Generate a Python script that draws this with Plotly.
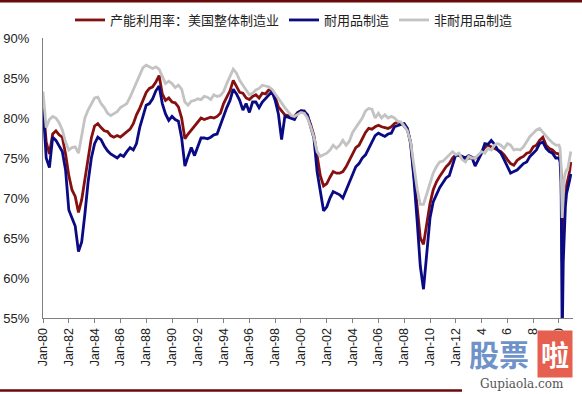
import pandas as pd
import plotly.graph_objects as go

# ---- data (quarterly 1980Q1-2019Q4, then monthly 2020) ----
quarter_dates = pd.date_range("1980-01-01", "2019-10-01", freq="QS")
month_dates_2020 = pd.date_range("2020-01-01", "2020-12-01", freq="MS")
dates = list(quarter_dates) + list(month_dates_2020)

total_mfg = [
    82.0, 77.0, 75.5, 78.0, 78.4, 77.9, 77.6, 75.5, 72.8, 71.0, 70.2, 68.2,
    69.8, 72.5, 75.0, 77.5, 79.0, 79.3, 78.8, 78.4, 78.3, 77.8, 77.6, 77.8,
    77.6, 77.9, 78.2, 78.6, 79.3, 80.4, 81.2, 82.2, 83.2, 83.7, 83.9, 84.5,
    85.3, 83.0, 82.2, 82.5, 82.0, 81.9, 81.4, 80.0, 77.4, 78.0, 78.5, 78.9,
    79.4, 80.0, 79.8, 80.0, 80.1, 80.0, 80.2, 80.6, 81.8, 82.6, 83.4, 84.7,
    84.0, 83.2, 83.1, 82.5, 82.3, 82.7, 82.9, 82.5, 83.1, 83.0, 83.5, 83.5,
    82.6, 81.4, 80.9, 80.4, 80.3, 80.2, 80.2, 80.7, 80.9, 80.9, 80.3, 79.2,
    77.8, 75.0, 72.8, 71.5, 71.8, 72.6, 73.3, 73.1, 73.1, 73.3, 73.9, 74.7,
    75.5, 76.3, 76.6, 77.4, 78.2, 78.7, 78.6, 78.9, 79.1, 78.9, 78.8, 78.7,
    78.9, 79.3, 79.5, 79.4, 79.0, 78.5, 77.0, 73.2, 68.8, 65.0, 64.2, 66.8,
    69.3, 71.0, 72.0, 72.7, 73.3, 73.9, 74.3, 75.0, 75.4, 75.3, 75.1, 74.8,
    75.0, 75.0, 75.0, 75.2, 75.7, 76.3, 76.6, 76.4, 76.3, 76.0, 75.8, 75.4,
    74.8, 74.3, 74.1, 74.7, 75.0, 75.2, 75.6, 75.7, 76.4, 76.6, 77.2, 77.6,
    76.6, 76.2, 76.0, 75.6,
    75.5, 75.2, 73.0, 62.0, 66.0, 70.0, 71.0, 71.5, 72.0, 72.7, 73.5, 74.5,
]

durable_mfg = [
    81.5, 75.0, 73.8, 77.6, 77.2, 76.5, 75.8, 73.5, 68.5, 67.5, 66.5, 63.3,
    64.5, 68.0, 72.0, 75.0, 76.8, 77.6, 77.3, 76.5, 75.9, 75.5, 75.2, 75.0,
    75.4, 75.2, 75.8, 76.3, 76.0, 76.8, 78.8, 80.3, 81.6, 81.8, 82.4, 83.4,
    84.0, 81.8, 80.5, 79.7, 80.2, 79.8, 79.6, 77.5, 74.0, 75.2, 76.3, 75.3,
    76.5, 77.5, 77.5, 77.4, 77.6, 77.9, 78.0, 79.2, 80.2, 81.3, 82.2, 83.6,
    83.0, 82.2, 81.0, 81.8, 80.7, 82.0, 82.0, 81.3, 82.0, 82.4, 82.9, 83.3,
    82.2, 80.5, 77.3, 80.2, 80.1, 79.9, 79.8, 80.6, 80.9, 80.8, 80.4, 78.9,
    77.5, 73.3, 70.6, 68.4, 68.9, 70.0, 70.8, 70.6, 70.4, 70.0, 71.0, 72.0,
    73.1, 73.9, 74.3, 75.0, 75.4, 76.2, 77.0, 77.8, 78.1, 77.9, 77.7, 78.0,
    78.1, 78.9, 79.1, 79.2, 79.3, 78.7, 76.8, 72.5, 67.2, 61.5, 58.6, 63.5,
    67.5, 69.5, 70.5, 71.3, 71.9, 72.5, 72.8, 74.2, 75.4, 75.4, 75.2, 75.0,
    75.3, 75.1, 74.0, 74.9, 75.6, 76.8, 76.7, 77.2, 76.7, 76.0, 75.6, 74.8,
    73.9, 73.1, 73.3, 73.5, 73.9, 74.3, 74.5, 75.2, 75.6, 76.0, 76.8, 77.0,
    76.2, 75.8, 75.6, 75.0,
    75.0, 74.5, 72.0, 52.0, 62.0, 67.0, 69.0, 70.5, 71.0, 71.5, 72.3, 73.0,
]

nondurable_mfg = [
    83.3, 78.8, 79.8, 80.2, 80.0, 79.4, 78.5, 77.0, 76.0, 76.3, 76.4, 75.6,
    77.8, 80.0, 81.0, 81.8, 82.5, 82.6, 81.8, 81.3, 80.6, 80.3, 80.6, 80.8,
    81.3, 81.5, 81.8, 82.6, 83.5, 84.3, 85.4, 86.3, 86.6, 86.4, 86.2, 86.4,
    86.1, 85.2, 84.3, 84.6, 84.3, 83.8, 84.1, 83.6, 82.0, 81.6, 82.1, 82.2,
    82.4, 82.3, 82.7, 82.6, 82.3, 82.9, 82.7, 82.8, 83.3, 84.3, 85.2, 86.1,
    85.6, 84.7, 84.1, 83.5, 82.9, 83.1, 83.5, 83.7, 84.1, 84.0, 83.9, 83.6,
    83.0, 82.4, 81.8, 81.3, 80.8, 80.3, 80.2, 80.4, 80.7, 80.6, 80.0, 78.9,
    77.6, 75.8, 75.2, 75.4, 75.6, 76.0, 76.6, 76.2, 76.6, 77.2, 76.6, 77.1,
    78.2, 78.8, 79.4, 80.0, 80.9, 81.2, 81.1, 80.0, 80.6, 80.0, 80.4, 80.0,
    80.2, 80.0, 79.6, 79.5, 79.0, 78.4, 77.0, 74.3, 71.2, 69.2, 69.2, 70.5,
    71.8, 73.1, 73.9, 74.5, 74.6, 75.0, 75.4, 75.8, 75.4, 75.6, 74.8, 74.5,
    75.2, 75.0, 75.0, 75.4, 75.8, 75.6, 76.2, 76.0, 76.6, 76.8, 76.6, 76.2,
    76.8, 76.6, 76.0, 76.1, 76.0, 76.4, 77.0, 77.7, 78.1, 78.5, 78.7, 78.2,
    77.7, 77.3, 76.9, 76.6,
    76.6, 76.2, 74.0, 67.5, 70.0, 72.5, 73.2, 73.5, 73.5, 74.2, 75.0, 75.8,
]

series_names = ["产能利用率：美国整体制造业", "耐用品制造", "非耐用品制造"]
series_colors = ["#861010", "#0A0A84", "#C3C3C3"]

tick_years = list(range(1980, 2021, 2))
tick_labels = ["Jan-80", "Jan-82", "Jan-84", "Jan-86", "Jan-88", "Jan-90",
               "Jan-92", "Jan-94", "Jan-96", "Jan-98", "Jan-00", "Jan-02",
               "Jan-04", "Jan-06", "Jan-08", "Jan-10", "Jan-12",
               "4", "6", "8", "0"]
y_ticks = [55, 60, 65, 70, 75, 80, 85, 90]

# ---- figure ----
W, H = 582, 394
L, R, T, B = 43, 9, 38, 76
PW, PH = W - L - R, H - T - B


def px_x(p):
    return (p - L) / PW


def px_y(p):
    return (H - B - p) / PH


fig = go.Figure()
for name, vals, col in zip(series_names, [total_mfg, durable_mfg, nondurable_mfg], series_colors):
    fig.add_trace(go.Scatter(x=dates, y=vals, mode="lines", name=name,
                             line=dict(color=col, width=2.8)))

fig.update_layout(
    width=W, height=H,
    margin=dict(l=L, r=R, t=T, b=B, pad=0, autoexpand=False),
    paper_bgcolor="white", plot_bgcolor="white",
    showlegend=True,
    legend=dict(orientation="h", xref="container", yref="container",
                x=70 / W, xanchor="left", y=1 - 20 / H, yanchor="middle",
                font=dict(family="Noto Sans CJK SC", size=13, color="#222222"),
                itemwidth=30, tracegroupgap=0, bgcolor="rgba(0,0,0,0)"),
    xaxis=dict(type="date", range=["1980-01-01", "2021-02-01"], automargin=False,
               tickvals=[pd.Timestamp(f"{y}-01-01") for y in tick_years],
               ticktext=tick_labels, tickangle=-90,
               ticks="outside", ticklen=4, tickcolor="#808080", tickwidth=1,
               showline=True, linecolor="#808080", linewidth=1,
               showgrid=False, zeroline=False,
               tickfont=dict(family="Arial, Liberation Sans, sans-serif", size=12.5, color="#222222")),
    yaxis=dict(range=[55, 90], tickvals=y_ticks, automargin=False,
               ticktext=[f"{v}%" for v in y_ticks],
               ticks="", showline=True, linecolor="#808080", linewidth=1,
               showgrid=False, zeroline=False, ticklabelstandoff=10,
               tickfont=dict(family="Arial, Liberation Sans, sans-serif", size=13, color="#222222")),
    shapes=[
        dict(type="line", xref="paper", yref="paper",
             x0=px_x(0), x1=px_x(W), y0=px_y(1), y1=px_y(1),
             line=dict(color="#6B0A0A", width=3)),
        dict(type="line", xref="paper", yref="paper",
             x0=px_x(0), x1=px_x(462), y0=px_y(390.5), y1=px_y(390.5),
             line=dict(color="#6B0A0A", width=2.5)),
    ],
)

# watermark
fig.add_annotation(xref="paper", yref="paper", x=px_x(499), y=px_y(353),
                   xanchor="center", yanchor="middle",
                   text="<b>股票</b>", showarrow=False, borderpad=0,
                   font=dict(family="Noto Sans CJK SC", size=30, color="#6F93C8"))
fig.add_annotation(xref="paper", yref="paper", x=px_x(555), y=px_y(354),
                   xanchor="center", yanchor="middle",
                   text="<b>啦</b>", showarrow=False, bgcolor="#E5604E",
                   borderpad=3, font=dict(family="Noto Sans CJK SC", size=28, color="white"))
fig.add_annotation(xref="paper", yref="paper", x=px_x(522), y=px_y(384),
                   xanchor="center", yanchor="middle",
                   text="Gupiaola.com", showarrow=False, borderpad=0,
                   font=dict(family="DejaVu Serif, serif", size=12, color="#555555"))

fig.write_html("out.html", config={"displayModeBar": False},
               post_script="document.body.style.margin='0';")
